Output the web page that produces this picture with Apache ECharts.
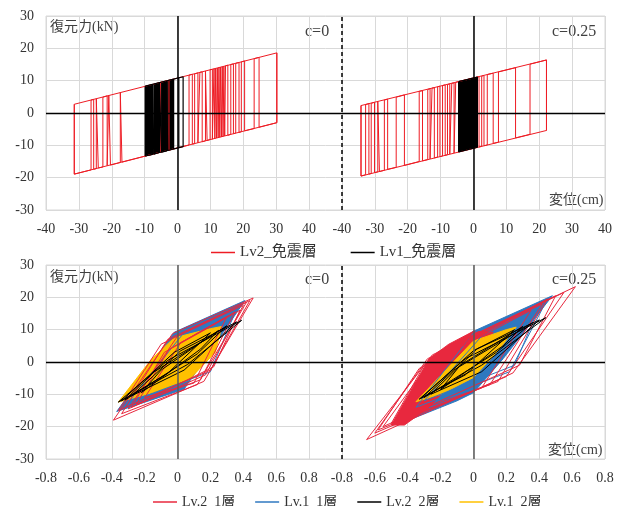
<!DOCTYPE html>
<html><head><meta charset="utf-8">
<script src="https://cdn.jsdelivr.net/npm/echarts/dist/echarts.min.js"></script>
<style>html,body{margin:0;padding:0;background:#fff}#c{width:623px;height:506px}</style>
</head><body><div id="c"></div>
<script>
// ---------- tick labels / legend names ----------
const topXTickLabels = ['-40','-30','-20','-10','0','10','20','30','40','-40','-30','-20','-10','0','10','20','30','40'];
const bottomXTickLabels = ['-0.8','-0.6','-0.4','-0.2','0','0.2','0.4','0.6','0.8','-0.8','-0.6','-0.4','-0.2','0','0.2','0.4','0.6','0.8'];
const topLegendNames = ['Lv2_免震層', 'Lv1_免震層'];
const bottomLegendNames = ['Lv.2_1層', 'Lv.1_1層', 'Lv.2_2層', 'Lv.1_2層'];

// ---------- top panels: isolation layer, reversal lines [disp, upper force, lower force] ----------
const topLv2C0 = [
 [-31.4,2.7,-18.9],[-26.3,4.0,-17.6],[-25.5,4.2,-17.4],[-24.7,4.4,-17.2],[-24.1,4.6,-17.0],
 [-22.7,4.9,-16.7],[-21.4,5.3,-16.3],[-20.9,5.4,-16.2],[-20.4,5.5,-16.1],[-17.4,6.3,-15.3],
 [-16.9,6.4,-15.2],[-5.2,9.5,-12.1],[-2.6,10.1,-11.5],[3.5,11.7,-9.9],[4.5,12.0,-9.6],
 [5.2,12.1,-9.5],[6.2,12.4,-9.2],[6.8,12.6,-9.0],[7.5,12.7,-8.9],[8.5,13.0,-8.6],
 [9.0,13.1,-8.5],[9.9,13.4,-8.2],[10.6,13.5,-8.1],[11.1,13.7,-7.9],[11.35,13.7,-7.9],
 [11.6,13.8,-7.8],[11.85,13.9,-7.7],[12.1,13.9,-7.7],[12.35,14.0,-7.6],[12.6,14.1,-7.6],
 [12.85,14.1,-7.5],[13.1,14.2,-7.4],[13.35,14.2,-7.4],[13.6,14.3,-7.3],[13.85,14.4,-7.2],
 [14.1,14.4,-7.2],[14.35,14.5,-7.1],[14.6,14.6,-7.0],[15.3,14.8,-6.9],[16.2,15.0,-6.6],
 [17.0,15.2,-6.4],[17.7,15.4,-6.2],[18.7,15.6,-6.0],[19.4,15.8,-5.8],[20.4,16.1,-5.5],
 [23.3,16.8,-4.8],[24.8,17.2,-4.4],[30.2,18.6,-3.0]
];
const topLv1C0 = [
 [-9.8,8.3,-13.3],[-7.6,8.8,-12.8],[-7.2,8.9,-12.7],[-5.5,9.4,-12.2],[-4.9,9.5,-12.1],
 [-3.3,9.9,-11.7],[-3.0,10.0,-11.6],[-1.2,10.5,-11.1],[0.4,10.9,-10.7],[1.7,11.2,-10.4]
];
// densely packed black reversal bands (read as solid blocks)
const topLv1C0Bands = [
 [[-9.8,8.3],[-7.6,8.8],[-7.6,-12.8],[-9.8,-13.3]],
 [[-7.2,8.9],[-5.5,9.4],[-5.5,-12.2],[-7.2,-12.7]],
 [[-4.9,9.5],[-3.3,9.9],[-3.3,-11.7],[-4.9,-12.1]],
 [[-3.0,10.0],[-1.2,10.5],[-1.2,-11.1],[-3.0,-11.6]]
];
const topLv2C25 = [
 [-34.2,2.3,-19.5],[-32.8,2.6,-19.1],[-31.8,2.9,-18.9],[-31.1,3.0,-18.7],[-30.1,3.3,-18.4],
 [-29.1,3.5,-18.2],[-28.6,3.7,-18.1],[-27.1,4.0,-17.7],[-26.1,4.3,-17.4],[-23.5,4.9,-16.8],
 [-21.0,5.6,-16.2],[-16.5,6.7,-15.0],[-15.5,6.9,-14.8],[-13.9,7.3,-14.4],[-13.2,7.5,-14.2],
 [-12.6,7.7,-14.1],[-11.9,7.8,-13.9],[-10.9,8.1,-13.6],[-10.2,8.3,-13.5],[-9.4,8.5,-13.3],
 [-8.6,8.7,-13.1],[-7.9,8.8,-12.9],[-7.2,9.0,-12.7],[-6.6,9.2,-12.6],[-5.9,9.3,-12.4],
 [-5.4,9.5,-12.3],[1.7,11.2,-10.5],[2.5,11.4,-10.3],[3.2,11.6,-10.1],[4.2,11.9,-9.9],
 [6.0,12.3,-9.4],[7.6,12.7,-9.0],[12.8,14.0,-7.7],[17.2,15.1,-6.6],[22.2,16.4,-5.4]
];
const topLv1C25 = [
 [-4.5,9.7,-12.0],[-2.5,10.2,-11.5],[-0.5,10.7,-11.0],[1.2,11.1,-10.6]
];
const topLv1C25Bands = [
 [[-4.5,9.7],[1.2,11.1],[1.2,-10.6],[-4.5,-12.0]]
];

// ---------- bottom panels: story hysteresis loops, vertices [disp, force] ----------
const btmLv2F1C0Loops = [
 [[-0.39,-18.0],[-0.03,8.8],[0.46,19.8],[0.16,-6.0]],
 [[-0.34,-16.0],[-0.06,7.0],[0.42,18.5],[0.12,-7.0]],
 [[-0.30,-14.5],[0.00,8.0],[0.40,17.5],[0.17,-4.0]],
 [[-0.25,-13.0],[-0.05,4.0],[0.35,15.5],[0.14,-5.5]],
 [[-0.20,-11.0],[0.02,6.0],[0.30,14.0],[0.10,-6.5]],
 [[-0.36,-15.0],[-0.10,5.5],[0.44,19.0],[0.20,-2.5]],
 [[-0.28,-14.0],[-0.08,3.0],[0.38,16.0],[0.22,-1.5]]
];
const btmLv1F1C0Fill = [
 [[-0.37,-15.3],[-0.02,9.2],[0.41,19.0],[0.04,-8.4]]
];
const btmLv1F1C0Loops = [
 [[-0.30,-12.5],[0.03,8.5],[0.36,16.5],[0.20,-3.0]]
];
const btmLv2F2C0Loops = [
 [[-0.36,-12.4],[-0.06,0.5],[0.39,12.9],[0.06,-0.8]],
 [[-0.32,-11.8],[-0.14,-3.0],[0.30,11.2],[0.12,2.5]],
 [[-0.28,-10.5],[0.02,3.5],[0.36,12.4],[0.04,-2.5]],
 [[-0.22,-9.5],[-0.10,-2.5],[0.25,9.8],[0.14,4.0]],
 [[-0.34,-12.0],[-0.02,3.0],[0.20,9.0],[-0.06,-3.5]]
];
const btmLv1F2C0Fill = [
 [[-0.36,-12.4],[-0.16,0.8],[-0.02,7.5],[0.20,10.3],[0.27,11.0],[0.23,3.0],[0.07,-5.5],[-0.14,-9.3]]
];

const btmLv2F1C25Loops = [
 [[-0.65,-24.0],[-0.25,2.2],[0.62,23.3],[0.24,-3.4]],
 [[-0.60,-22.0],[-0.28,1.0],[0.55,21.5],[0.20,-4.5]],
 [[-0.55,-20.0],[-0.22,3.0],[0.50,20.5],[0.28,-1.0]],
 [[-0.50,-19.0],[-0.30,-1.0],[0.45,19.5],[0.15,-6.0]],
 [[-0.45,-17.0],[-0.20,2.5],[0.42,18.0],[0.10,-7.0]],
 [[-0.58,-21.0],[-0.33,-2.0],[0.35,16.0],[0.05,-8.0]]
];
const btmLv2F1C25Fill = [
 [[-0.50,-19.5],[-0.27,1.0],[-0.15,5.5],[0.00,9.5],[0.12,9.2],[-0.05,-2.0],[-0.27,-14.0],[-0.42,-19.5]]
];
const btmLv1F1C25Fill = [
 [[-0.42,-18.5],[-0.12,5.0],[0.00,9.5],[0.48,20.5],[0.18,1.0],[0.00,-9.5],[-0.10,-12.0]]
];
const btmLv1F1C25Loops = [
 [[-0.35,-14.0],[0.00,9.0],[0.45,19.5],[0.22,-3.0]],
 [[-0.30,-12.0],[0.05,8.0],[0.40,17.0],[0.25,-1.0]]
];
const btmLv1F2C25Fill = [
 [[-0.35,-12.3],[-0.15,-1.5],[0.00,6.5],[0.20,10.0],[0.26,10.8],[0.15,3.5],[0.00,-4.8],[-0.20,-10.0]]
];
const btmLv2F2C25Loops = [
 [[-0.33,-11.5],[-0.05,1.0],[0.44,13.7],[0.05,-1.0]],
 [[-0.30,-11.0],[-0.12,-2.5],[0.36,12.2],[0.14,3.0]],
 [[-0.26,-10.0],[0.02,4.0],[0.40,13.0],[0.05,-3.0]],
 [[-0.20,-8.5],[-0.08,-1.0],[0.30,11.0],[0.18,5.0]],
 [[-0.32,-11.2],[0.00,3.5],[0.25,10.0],[-0.05,-4.0]]
];

// ---------- layout / style ----------
const TOP_SHIFT = 90;      // right-hand panel offset on the shared top axis
const BTM_SHIFT = 1.8;     // right-hand panel offset on the shared bottom axis
const FONT = "'Liberation Serif','Times New Roman','Noto Sans CJK JP',serif";
const RED = '#ee1c24', RED2 = '#e8283e', BLACK = '#000000', BLUE = '#2f78c0', GOLD = '#ffc000';
const GRID_C = '#d9d9d9', TXT = '#333333';

function combPath(list, off) {
  const pts = [];
  list.forEach((d, i) => {
    const x = d[0] + off;
    if (i % 2 === 0) pts.push([x, d[1]], [x, d[2]]); else pts.push([x, d[2]], [x, d[1]]);
  });
  const a = list[0], b = list[list.length - 1];
  pts.push(['-', '-'], [a[0] + off, a[1]], [b[0] + off, b[1]], [b[0] + off, b[2]], [a[0] + off, a[2]], [a[0] + off, a[1]]);
  return pts;
}
function loopPath(loops, off) {
  const pts = [];
  loops.forEach((lp, k) => {
    if (k) pts.push(['-', '-']);
    lp.forEach(p => pts.push([p[0] + off, p[1]]));
    pts.push([lp[0][0] + off, lp[0][1]]);
  });
  return pts;
}
function lineSeries(name, data, color, gi, width, extra) {
  return Object.assign({
    type: 'line', name, data, xAxisIndex: gi, yAxisIndex: gi, showSymbol: false, symbol: 'none',
    lineStyle: { color, width }, itemStyle: { color }, silent: true, animation: false, connectNulls: false
  }, extra || {});
}
function fillSeries(name, polys, off, color, gi) {
  return {
    type: 'custom', name, xAxisIndex: gi, yAxisIndex: gi, silent: true, animation: false,
    itemStyle: { color },
    data: polys.map(p => [p[0][0] + off, p[0][1]]),
    renderItem: (params, api) => ({
      type: 'polygon',
      shape: { points: polys[params.dataIndex].map(q => api.coord([q[0] + off, q[1]])) },
      style: { fill: color, stroke: color, lineWidth: 1 }
    })
  };
}
function refLines(zeroA, zeroB, sep, zeroColor) {
  return {
    silent: true, symbol: ['none', 'none'], label: { show: false }, animation: false,
    data: [
      { xAxis: zeroA, lineStyle: { color: zeroColor, width: 1.5, type: 'solid' } },
      { xAxis: zeroB, lineStyle: { color: zeroColor, width: 1.5, type: 'solid' } },
      { yAxis: 0, lineStyle: { color: '#000', width: 1.3, type: 'solid' } },
      { xAxis: sep, lineStyle: { color: '#000', width: 1.5, type: [4, 3] } }
    ]
  };
}
function xAxisCfg(gi, min, max, interval, labels) {
  return {
    type: 'value', gridIndex: gi, min, max, interval,
    axisLine: { show: false }, axisTick: { show: false },
    splitLine: { show: true, lineStyle: { color: GRID_C, width: 1 } },
    axisLabel: {
      color: TXT, fontSize: 14, fontFamily: FONT, margin: 12, showMinLabel: true, showMaxLabel: true,
      formatter: v => labels[Math.round((v - min) / interval)] ?? ''
    }
  };
}
function yAxisCfg(gi) {
  return {
    type: 'value', gridIndex: gi, min: -30, max: 30, interval: 10,
    axisLine: { show: false }, axisTick: { show: false },
    splitLine: { show: true, lineStyle: { color: GRID_C, width: 1 } },
    axisLabel: { color: TXT, fontSize: 14, fontFamily: FONT, margin: 12 }
  };
}
function txt(text, x, y, size) {
  return { type: 'text', x, y, silent: true,
    style: { text, fontSize: size, fontFamily: FONT, fill: '#404040', verticalAlign: 'middle' } };
}

const series = [
  // top grid
  lineSeries(topLegendNames[0], combPath(topLv2C0, 0), RED, 0, 1, { markLine: refLines(0, TOP_SHIFT, 50, '#000') }),
  lineSeries(topLegendNames[0], combPath(topLv2C25, TOP_SHIFT), RED, 0, 1),
  fillSeries(topLegendNames[1], topLv1C0Bands, 0, BLACK, 0),
  fillSeries(topLegendNames[1], topLv1C25Bands, TOP_SHIFT, BLACK, 0),
  lineSeries(topLegendNames[1], combPath(topLv1C0, 0), BLACK, 0, 1.2),
  lineSeries(topLegendNames[1], combPath(topLv1C25, TOP_SHIFT), BLACK, 0, 1.2),
  // bottom grid
  fillSeries(bottomLegendNames[1], btmLv1F1C0Fill, 0, BLUE, 1),
  fillSeries(bottomLegendNames[1], btmLv1F1C25Fill, BTM_SHIFT, BLUE, 1),
  lineSeries(bottomLegendNames[1], loopPath(btmLv1F1C0Loops, 0), BLUE, 1, 1,
     { markLine: refLines(0, BTM_SHIFT, 1.0, '#595959') }),
  lineSeries(bottomLegendNames[1], loopPath(btmLv1F1C25Loops, BTM_SHIFT), BLUE, 1, 1),
  fillSeries(bottomLegendNames[0], btmLv2F1C25Fill, BTM_SHIFT, RED2, 1),
  lineSeries(bottomLegendNames[0], loopPath(btmLv2F1C0Loops, 0), RED2, 1, 1),
  lineSeries(bottomLegendNames[0], loopPath(btmLv2F1C25Loops, BTM_SHIFT), RED2, 1, 1),
  fillSeries(bottomLegendNames[3], btmLv1F2C0Fill, 0, GOLD, 1),
  fillSeries(bottomLegendNames[3], btmLv1F2C25Fill, BTM_SHIFT, GOLD, 1),
  lineSeries(bottomLegendNames[2], loopPath(btmLv2F2C0Loops, 0), BLACK, 1, 1),
  lineSeries(bottomLegendNames[2], loopPath(btmLv2F2C25Loops, BTM_SHIFT), BLACK, 1, 1)
];

const legendColors = { 'Lv2_免震層': RED, 'Lv1_免震層': BLACK, 'Lv.2_1層': RED2, 'Lv.1_1層': BLUE, 'Lv.2_2層': BLACK, 'Lv.1_2層': GOLD };
function legendCfg(names, left, top, gap, size) {
  return {
    left, top, itemGap: gap, itemWidth: 24, itemHeight: 1.5, icon: 'rect', selectedMode: false,
    data: names.map(n => ({ name: n, itemStyle: { color: legendColors[n] } })),
    textStyle: { color: TXT, fontSize: size, fontFamily: FONT }
  };
}

const chart = echarts.init(document.getElementById('c'), null, { renderer: 'canvas' });
chart.setOption({
  animation: false,
  backgroundColor: '#ffffff',
  textStyle: { fontFamily: FONT },
  grid: [
    { left: 46, right: 18, top: 16, bottom: 296, show: true, borderColor: GRID_C, borderWidth: 1, backgroundColor: 'transparent' },
    { left: 46, right: 18, top: 265, bottom: 47, show: true, borderColor: GRID_C, borderWidth: 1, backgroundColor: 'transparent' }
  ],
  xAxis: [
    xAxisCfg(0, -40, 130, 10, topXTickLabels),
    xAxisCfg(1, -0.8, 2.6, 0.2, bottomXTickLabels)
  ],
  yAxis: [yAxisCfg(0), yAxisCfg(1)],
  legend: [
    legendCfg(topLegendNames, 206, 240, 34, 15),
    legendCfg(bottomLegendNames, 148, 490, 20, 14)
  ],
  graphic: [
    txt('復元力(kN)', 50, 27, 14), txt('c=0', 305, 32, 16), txt('c=0.25', 552, 32, 16), txt('変位(cm)', 549, 200, 14),
    txt('復元力(kN)', 50, 277, 14), txt('c=0', 305, 280, 16), txt('c=0.25', 552, 280, 16), txt('変位(cm)', 548, 450, 14)
  ],
  series
});
</script></body></html>
